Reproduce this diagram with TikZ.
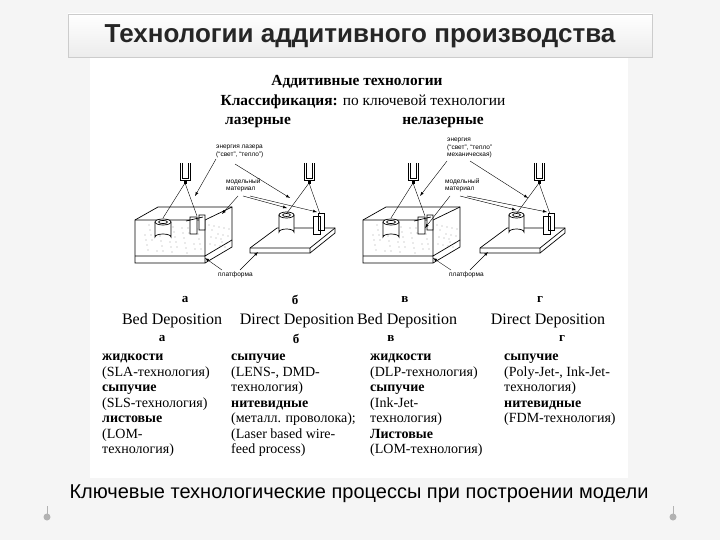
\documentclass[tikz,border=0pt]{standalone}
\usepackage{fontspec}
\setmainfont{Liberation Serif}
\newfontfamily\sansf{Liberation Sans}
\begin{document}
\begin{tikzpicture}[x=1pt,y=-1pt,
  tx/.style={font=\fontsize{15.4}{18}\selectfont,inner sep=0pt},
  col/.style={font=\fontsize{14}{15.5}\selectfont,align=left,anchor=north west,inner sep=0pt},
  sm/.style={font=\sansf\fontsize{6.5}{7.5}\selectfont,align=left,inner sep=0pt,anchor=north west},
  sk/.style={line width=0.7pt,black},
  lead/.style={line width=0.4pt,-latex}]
\useasboundingbox (0,0) rectangle (720,540);
\fill[gray!8] (0,0) rectangle (720,540);
\fill[white] (90,55) rectangle (628,478);
\shade[top color=white,bottom color=gray!15,draw=gray!40] (68,14) rectangle (652,57);
\node[font=\sansf\bfseries\fontsize{26}{30}\selectfont,text=black!85] (title) at (360,36) {Технологии аддитивного производства};
\node[font=\sansf\fontsize{20}{24}\selectfont] (cap) at (359,494) {Ключевые технологические процессы при построении модели};
% decorations
\fill[gray!60] (47,517) circle (3.5);
\draw[gray!60,line width=1pt] (47,517) -- (47,506);
\fill[gray!60] (673,517) circle (3.5);
\draw[gray!60,line width=1pt] (673,517) -- (673,506);
% headings
\node[tx,font=\bfseries\fontsize{15.4}{18}\selectfont] (h1) at (357,82) {Аддитивные технологии};
\node[tx] (h2) at (363,102) {\textbf{Классификация:} по ключевой технологии};
\node[tx,font=\bfseries\fontsize{15.4}{18}\selectfont] (h3) at (258,123) {лазерные};
\node[tx,font=\bfseries\fontsize{15.4}{18}\selectfont] (h4) at (443,123) {нелазерные};
% sketches: bed blocks
\foreach \dx in {0,228}{
\begin{scope}[xshift=\dx]
 \draw[sk,fill=white] (135,220) -- (158,207) -- (232,207) -- (232,247) -- (205,263) -- (135,263) -- cycle;
 \draw[sk] (135,220) -- (205,220) -- (232,207) (205,220) -- (205,263) (135,256) -- (205,256) -- (232,240);
 \foreach \i in {1,...,40}{\fill ({140+mod(\i*37,62)},{224+mod(\i*23,30)}) circle (0.45);}
 \foreach \i in {1,...,18}{\fill ({208+mod(\i*13,22)},{222+mod(\i*17,26)}) circle (0.45);}
 \draw[sk,fill=white] (155,222) -- (155,237) arc (180:360:8 and 3) -- (171,222);
 \draw[sk,fill=white] (163,222) ellipse (8 and 3);
 \draw[sk] (163,222) ellipse (4.5 and 1.6);
 \draw[sk,fill=white] (190,217) rectangle (197,234) (199,215) rectangle (205,230) (186,221) -- (203,217);
 \draw[sk] (180,163) -- (180,180) -- (190,180) -- (190,163) (182,163)--(182,178)--(188,178)--(188,163);
 \draw[sk,fill=black] (184,180) rectangle (186,183);
 \draw[line width=0.4pt] (185,183) -- (163,218) (185,183) -- (197,216);
\end{scope}}
% platforms
\foreach \dx in {0,230}{
\begin{scope}[xshift=\dx]
 \draw[sk,fill=white] (250,248) -- (277,228) -- (335,228) -- (335,233) -- (310,253) -- (250,253) -- cycle;
 \draw[sk] (250,248) -- (310,248) -- (335,228) (310,248) -- (310,253);
 \draw[sk,fill=white] (279,215) -- (279,232) arc (180:360:7.5 and 3) -- (294,215);
 \draw[sk,fill=white] (286.5,215) ellipse (7.5 and 3);
 \draw[sk] (286.5,215) ellipse (4 and 1.5);
 \draw[sk,fill=white] (313,216) rectangle (320,234) (318,213) rectangle (324,230);
 \draw[sk] (304,163) -- (304,180) -- (314,180) -- (314,163) (306,163)--(306,178)--(312,178)--(312,163);
 \draw[sk,fill=black] (308,180) rectangle (310,183);
 \draw[line width=0.4pt] (309,183) -- (287,213) (309,183) -- (320,214);
\end{scope}}
% small labels
\node[sm] (la1) at (216,145) {энергия лазера\\(“свет”, “тепло”)};
\node[sm] (la2) at (226,178) {модельный\\материал};
\node[sm] (la3) at (218,272) {платформа};
\node[sm] (lc1) at (447,138) {энергия\\(“свет”, “тепло”\\механическая)};
\node[sm] (lc2) at (445,178) {модельный\\материал};
\node[sm] (lc3) at (449,272) {платформа};
\draw[lead] (216,159) -- (195,196);
\draw[lead] (235,164) -- (290,198);
\draw[lead] (238,196) -- (222,214);
\draw[lead] (243,196) -- (287,208);
\draw[lead] (250,196) -- (317,212);
\draw[lead] (222,270) -- (205,258);
\draw[lead] (240,270) -- (258,252);
\draw[lead] (447,161) -- (420,196);
\draw[lead] (470,161) -- (528,198);
\draw[lead] (450,196) -- (425,228);
\draw[lead] (460,196) -- (516,210);
\draw[lead] (467,196) -- (547,212);
\draw[lead] (451,270) -- (433,258);
\draw[lead] (470,270) -- (488,252);
% labels
\foreach \x/\t/\n in {185/а/a,295/б/b,405/в/c,540/г/d}{\node[tx,font=\bfseries\fontsize{13}{15}\selectfont] (l\n) at (\x,300) {\t};}
\node[tx,font=\fontsize{16}{18}\selectfont] (dpa) at (172,321) {Bed Deposition};
\node[tx,font=\fontsize{16}{18}\selectfont] (dpb) at (297,321) {Direct Deposition};
\node[tx,font=\fontsize{16}{18}\selectfont] (dpc) at (407,321) {Bed Deposition};
\node[tx,font=\fontsize{16}{18}\selectfont] (dpd) at (548,321) {Direct Deposition};
\foreach \x/\t/\n in {162/а/a,296/б/b,391/в/c,562/г/d}{\node[tx,font=\bfseries\fontsize{13}{15}\selectfont] (m\n) at (\x,339) {\t};}
\node[col] (ca) at (102,354) {\textbf{жидкости}\\(SLA-технология)\\\textbf{сыпучие}\\(SLS-технология)\\\textbf{листовые}\\(LOM-\\технология)};
\node[col] (cb) at (231,354) {\textbf{сыпучие}\\(LENS-, DMD-\\технология)\\\textbf{нитевидные}\\(металл. проволока);\\(Laser based wire-\\feed process)};
\node[col] (cc) at (370,354) {\textbf{жидкости}\\(DLP-технология)\\\textbf{сыпучие}\\(Ink-Jet-\\технология)\\\textbf{Листовые}\\(LOM-технология)};
\node[col] (cd) at (504,354) {\textbf{сыпучие}\\(Poly-Jet-, Ink-Jet-\\технология)\\\textbf{нитевидные}\\(FDM-технология)};
\end{tikzpicture}
\end{document}
